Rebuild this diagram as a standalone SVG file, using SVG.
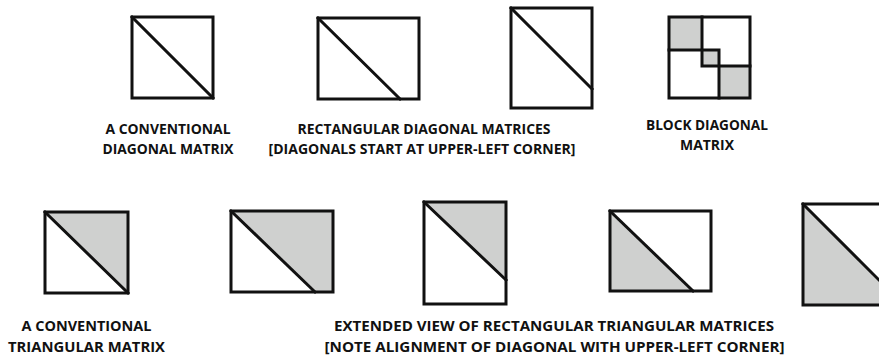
<svg xmlns="http://www.w3.org/2000/svg" width="879" height="356" viewBox="0 0 879 356">
<style>
.bg{fill:#ffffff}
.box{fill:none;stroke:#111111;stroke-width:3;stroke-linejoin:miter}
.ln{fill:none;stroke:#111111;stroke-width:3;stroke-linecap:square}
.sh{fill:#cfd0cf;stroke:none}
.lbl{font-family:"Open Sans","Liberation Sans",sans-serif;font-weight:700;fill:#111111;text-anchor:middle}
.t1{font-size:15px}
.t2{font-size:15px}
</style>
<rect class="bg" x="0" y="0" width="879" height="356"/>

<g id="conventional-diagonal">
  <rect class="box" x="132" y="17" width="81" height="81"/>
  <line class="ln" x1="132" y1="17" x2="213" y2="98"/>
</g>

<g id="rect-diagonal-wide">
  <rect class="box" x="318" y="18" width="101" height="81"/>
  <line class="ln" x1="318" y1="18" x2="400" y2="99"/>
</g>

<g id="rect-diagonal-tall">
  <rect class="box" x="511" y="8" width="81" height="100"/>
  <line class="ln" x1="511" y1="8" x2="592" y2="89"/>
</g>

<g id="block-diagonal">
  <rect class="sh" x="669" y="17" width="33" height="33"/>
  <rect class="sh" x="702" y="50" width="17" height="16"/>
  <rect class="sh" x="719" y="66" width="31" height="32"/>
  <rect class="box" x="669" y="17" width="81" height="81"/>
  <polyline class="ln" points="702,17 702,66 750,66"/>
  <polyline class="ln" points="669,50 719,50 719,98"/>
</g>

<g id="label-conventional-diagonal">
  <text class="lbl t1" x="168" y="134" textLength="125" lengthAdjust="spacingAndGlyphs">A CONVENTIONAL</text>
  <text class="lbl t1" x="168" y="154" textLength="131" lengthAdjust="spacingAndGlyphs">DIAGONAL MATRIX</text>
</g>

<g id="label-rect-diagonal">
  <text class="lbl t1" x="424" y="134" textLength="253" lengthAdjust="spacingAndGlyphs">RECTANGULAR DIAGONAL MATRICES</text>
  <text class="lbl t1" x="422" y="154" textLength="307" lengthAdjust="spacingAndGlyphs">[DIAGONALS START AT UPPER-LEFT CORNER]</text>
</g>

<g id="label-block-diagonal">
  <text class="lbl t1" x="707" y="130" textLength="122" lengthAdjust="spacingAndGlyphs">BLOCK DIAGONAL</text>
  <text class="lbl t1" x="707" y="150" textLength="54" lengthAdjust="spacingAndGlyphs">MATRIX</text>
</g>

<g id="conventional-triangular">
  <polygon class="sh" points="45,212 128,212 128,293"/>
  <rect class="box" x="45" y="212" width="83" height="81"/>
  <line class="ln" x1="45" y1="212" x2="128" y2="293"/>
</g>

<g id="rect-triangular-wide-upper">
  <polygon class="sh" points="231,211 333,211 333,292 315,292"/>
  <rect class="box" x="231" y="211" width="102" height="81"/>
  <line class="ln" x1="231" y1="211" x2="315" y2="292"/>
</g>

<g id="rect-triangular-tall-upper">
  <polygon class="sh" points="424,202 506,202 506,280"/>
  <rect class="box" x="424" y="202" width="82" height="102"/>
  <line class="ln" x1="424" y1="202" x2="506" y2="280"/>
</g>

<g id="rect-triangular-wide-lower">
  <polygon class="sh" points="610,211 693,291 610,291"/>
  <rect class="box" x="610" y="211" width="101" height="80"/>
  <line class="ln" x1="610" y1="211" x2="693" y2="291"/>
</g>

<g id="rect-triangular-tall-lower">
  <polygon class="sh" points="803,204 885,286 885,305 803,305"/>
  <rect class="box" x="803" y="204" width="82" height="101"/>
  <line class="ln" x1="803" y1="204" x2="885" y2="286"/>
</g>

<g id="label-conventional-triangular">
  <text class="lbl t2" x="86.5" y="331" textLength="130" lengthAdjust="spacingAndGlyphs">A CONVENTIONAL</text>
  <text class="lbl t2" x="86.5" y="352" textLength="157" lengthAdjust="spacingAndGlyphs">TRIANGULAR MATRIX</text>
</g>

<g id="label-rect-triangular">
  <text class="lbl t2" x="554" y="331" textLength="440" lengthAdjust="spacingAndGlyphs">EXTENDED VIEW OF RECTANGULAR TRIANGULAR MATRICES</text>
  <text class="lbl t2" x="554.5" y="352" textLength="460" lengthAdjust="spacingAndGlyphs">[NOTE ALIGNMENT OF DIAGONAL  WITH UPPER-LEFT CORNER]</text>
</g>

<g id="connectors"></g>
</svg>
